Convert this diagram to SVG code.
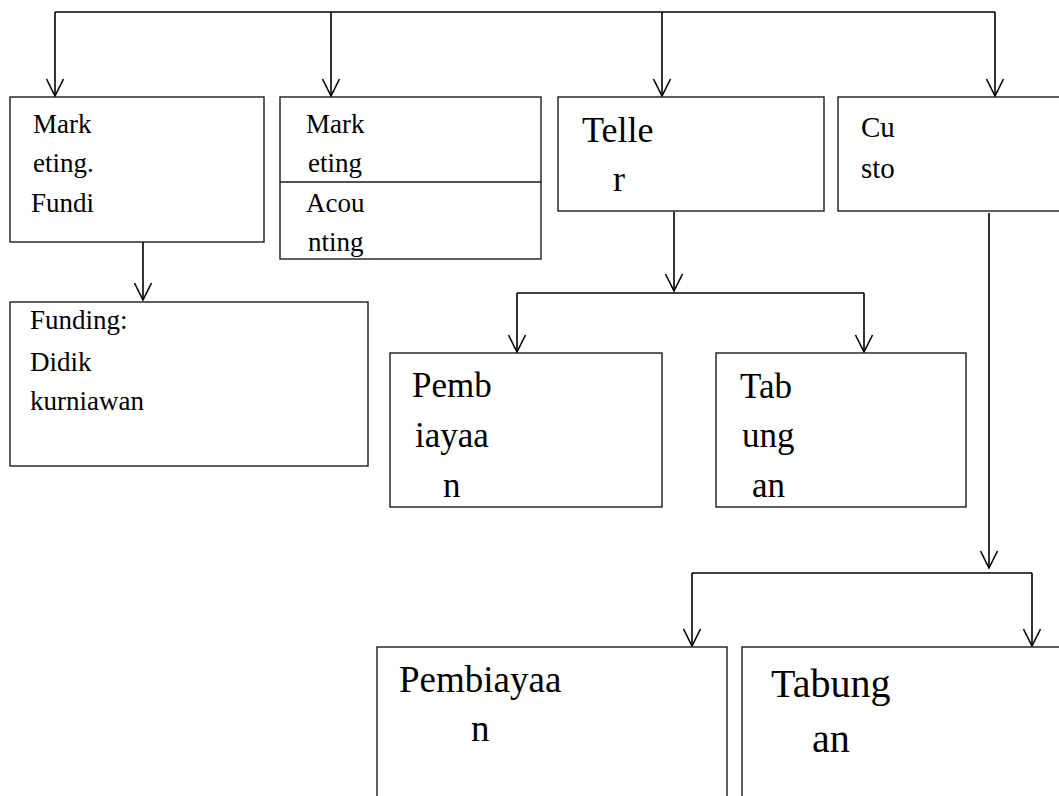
<svg xmlns="http://www.w3.org/2000/svg" width="1059" height="796" viewBox="0 0 1059 796">
  <style>
    .box { fill: #ffffff; stroke: #1a1a1a; stroke-width: 1.4; }
    .conn { fill: none; stroke: #000000; stroke-width: 1.6; }
    text { font-family: "Liberation Serif", "Times New Roman", "DejaVu Serif", serif; fill: #000000; }
    .s27 { font-size: 27px; }
    .s29 { font-size: 29px; }
    .s35 { font-size: 35px; }
    .s36 { font-size: 36px; }
    .s37 { font-size: 37px; }
    .s40 { font-size: 40px; }
  </style>
  <defs>
    <marker id="arrow" markerUnits="userSpaceOnUse" markerWidth="20" markerHeight="20" refX="17" refY="8.5" orient="auto" overflow="visible">
      <path d="M0,0 L17,8.5 L0,17" fill="none" stroke="#000000" stroke-width="1.6"/>
    </marker>
    <clipPath id="clipBox2">
      <rect x="280" y="97" width="261" height="162"/>
    </clipPath>
  </defs>
  <rect width="1059" height="796" fill="#ffffff"/>

  <g id="connectors">
    <path class="conn" d="M55,12 L995,12"/>
    <path class="conn" d="M55,12 L55,96" marker-end="url(#arrow)"/>
    <path class="conn" d="M331,12 L331,96" marker-end="url(#arrow)"/>
    <path class="conn" d="M662,12 L662,96" marker-end="url(#arrow)"/>
    <path class="conn" d="M995,12 L995,96" marker-end="url(#arrow)"/>
    <path class="conn" d="M143,242 L143,300" marker-end="url(#arrow)"/>
    <path class="conn" d="M674,212 L674,291" marker-end="url(#arrow)"/>
    <path class="conn" d="M517,293 L864,293"/>
    <path class="conn" d="M517,293 L517,352" marker-end="url(#arrow)"/>
    <path class="conn" d="M864,293 L864,352" marker-end="url(#arrow)"/>
    <path class="conn" d="M989,213 L989,568" marker-end="url(#arrow)"/>
    <path class="conn" d="M692,573 L1032,573"/>
    <path class="conn" d="M692,573 L692,646" marker-end="url(#arrow)"/>
    <path class="conn" d="M1032,573 L1032,646" marker-end="url(#arrow)"/>
  </g>

  <g id="node-marketing-funding">
    <rect class="box" x="10" y="97" width="254" height="145"/>
    <text class="s27" x="33" y="133" font-family="Liberation Serif, serif">Mark</text>
    <text class="s27" x="33" y="172" font-family="Liberation Serif, serif">eting.</text>
    <text class="s27" x="31" y="212" font-family="Liberation Serif, serif">Fundi</text>
  </g>

  <g id="node-marketing-accounting">
    <rect class="box" x="280" y="97" width="261" height="162"/>
    <line class="box" x1="280" y1="182" x2="541" y2="182"/>
    <g clip-path="url(#clipBox2)">
      <text class="s27" x="306" y="133" font-family="Liberation Serif, serif">Mark</text>
      <text class="s27" x="308" y="172" font-family="Liberation Serif, serif">eting</text>
      <text class="s27" x="306" y="212" font-family="Liberation Serif, serif">Acou</text>
      <text class="s27" x="308" y="251" font-family="Liberation Serif, serif">nting</text>
    </g>
  </g>

  <g id="node-teller">
    <rect class="box" x="558" y="97" width="266" height="114"/>
    <text class="s36" x="582" y="142" font-family="Liberation Serif, serif">Telle</text>
    <text class="s36" x="613" y="191" font-family="Liberation Serif, serif">r</text>
  </g>

  <g id="node-customer">
    <rect class="box" x="838" y="97" width="240" height="114"/>
    <text class="s29" x="861" y="137" font-family="Liberation Serif, serif">Cu</text>
    <text class="s29" x="861" y="178" font-family="Liberation Serif, serif">sto</text>
  </g>

  <g id="node-funding">
    <rect class="box" x="10" y="302" width="358" height="164"/>
    <text class="s27" x="30" y="329" font-family="Liberation Serif, serif">Funding:</text>
    <text class="s27" x="30" y="371" font-family="Liberation Serif, serif">Didik</text>
    <text class="s27" x="30" y="410" font-family="Liberation Serif, serif">kurniawan</text>
  </g>

  <g id="node-pembiayaan-teller">
    <rect class="box" x="390" y="353" width="272" height="154"/>
    <text class="s35" x="412" y="397" font-family="Liberation Serif, serif">Pemb</text>
    <text class="s35" x="415" y="447" font-family="Liberation Serif, serif">iayaa</text>
    <text class="s35" x="443" y="497" font-family="Liberation Serif, serif">n</text>
  </g>

  <g id="node-tabungan-teller">
    <rect class="box" x="716" y="353" width="250" height="154"/>
    <text class="s35" x="740" y="398" font-family="Liberation Serif, serif">Tab</text>
    <text class="s35" x="742" y="447" font-family="Liberation Serif, serif">ung</text>
    <text class="s35" x="752" y="497" font-family="Liberation Serif, serif">an</text>
  </g>

  <g id="node-pembiayaan-customer">
    <rect class="box" x="377" y="647" width="350" height="170"/>
    <text class="s37" x="399" y="692" font-family="Liberation Serif, serif">Pembiayaa</text>
    <text class="s37" x="471" y="741" font-family="Liberation Serif, serif">n</text>
  </g>

  <g id="node-tabungan-customer">
    <rect class="box" x="742" y="647" width="340" height="170"/>
    <text class="s40" x="771" y="697" font-family="Liberation Serif, serif">Tabung</text>
    <text class="s40" x="812" y="752" font-family="Liberation Serif, serif">an</text>
  </g>
</svg>
